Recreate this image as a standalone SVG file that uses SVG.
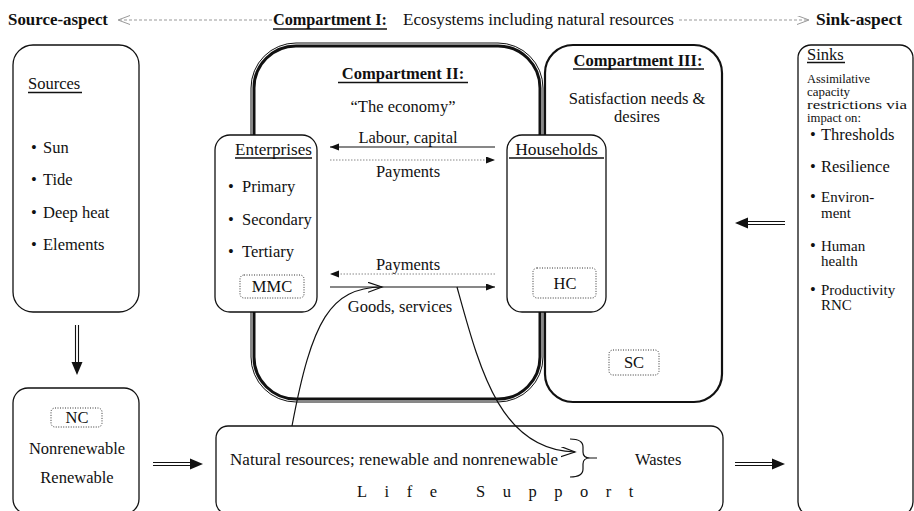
<svg xmlns="http://www.w3.org/2000/svg" xmlns:xlink="http://www.w3.org/1999/xlink" width="914" height="511" viewBox="0 0 914 511">
<style>
.t{font-family:"Liberation Serif","Times New Roman",serif;font-size:16.5px;fill:#111}
.s{font-size:12px}
.c{font-size:15px}
.b{font-weight:bold}
.m{text-anchor:middle}
.box{fill:#fff;stroke:#111;stroke-width:1.3}
.dot{fill:#fff;stroke:#333;stroke-width:1;stroke-dasharray:1 1.5}
.ul{stroke:#111;stroke-width:1.3}
.ln{fill:none;stroke:#111;stroke-width:1.2}
.dl{fill:none;stroke:#888;stroke-width:1;stroke-dasharray:1.5 1.5}
.gl{fill:none;stroke:#999;stroke-width:1;stroke-dasharray:3 2}
</style>
<defs>
<marker id="fa" markerUnits="userSpaceOnUse" markerWidth="10" markerHeight="8" refX="9" refY="3.5" orient="auto"><path d="M0,0 L9,3.5 L0,7 z" fill="#111"/></marker>
<marker id="oa" markerUnits="userSpaceOnUse" markerWidth="16" markerHeight="12" refX="14" refY="5" orient="auto"><path d="M0,0 L14,5 L0,10" fill="none" stroke="#111" stroke-width="1.2"/></marker>
<marker id="ga" markerUnits="userSpaceOnUse" markerWidth="14" markerHeight="11" refX="12" refY="4.5" orient="auto"><path d="M0,0 L12,4.5 L0,9" fill="none" stroke="#999" stroke-width="1"/></marker>
<g id="dbl"><line x1="0" y1="-1.5" x2="40" y2="-1.5" stroke="#111" stroke-width="1.1"/><line x1="0" y1="1.5" x2="40" y2="1.5" stroke="#111" stroke-width="1.1"/><polygon points="37,-5.5 50,0 37,5.5" fill="#111"/></g>
</defs>
<rect width="914" height="511" fill="#fff"/>

<g id="title">
<text class="t b" x="8" y="25" textLength="100" lengthAdjust="spacingAndGlyphs">Source-aspect</text>
<text class="t b" x="273" y="25" textLength="114" lengthAdjust="spacingAndGlyphs">Compartment I:</text>
<line class="ul" x1="273" y1="29" x2="387" y2="29"/>
<text class="t" x="403" y="25" textLength="271" lengthAdjust="spacingAndGlyphs">Ecosystems including natural resources</text>
<text class="t b" x="816" y="25" textLength="86" lengthAdjust="spacingAndGlyphs">Sink-aspect</text>
</g>

<g id="compartment2">
<rect x="251" y="43" width="292" height="359" rx="45" fill="#fff" stroke="#111" stroke-width="1"/>
<rect x="254" y="46" width="286" height="353" rx="42" fill="none" stroke="#111" stroke-width="3"/>
<text class="t b m" x="403" y="79">Compartment II:</text>
<line class="ul" x1="338" y1="82.5" x2="468" y2="82.5"/>
<text class="t m" x="403" y="112">“The economy”</text>
<text class="t m" x="408" y="143">Labour, capital</text>
<text class="t m" x="408" y="177">Payments</text>
<text class="t m" x="408" y="270">Payments</text>
<text class="t m" x="400" y="312">Goods, services</text>
</g>

<g id="compartment3">
<rect x="545" y="45" width="177" height="357" rx="28" fill="#fff" stroke="#111" stroke-width="2.2"/>
<text class="t b m" x="638" y="66">Compartment III:</text>
<line class="ul" x1="573" y1="69" x2="704" y2="69"/>
<text class="t m" x="637" y="104">Satisfaction needs &amp;</text>
<text class="t m" x="637" y="122">desires</text>
<rect class="dot" x="609" y="350" width="50" height="25" rx="4"/>
<text class="t m" x="634" y="368">SC</text>
</g>

<g id="enterprises">
<rect class="box" x="215" y="135" width="102" height="177" rx="15"/>
<text class="t" x="235" y="155" textLength="77" lengthAdjust="spacingAndGlyphs">Enterprises</text>
<line class="ul" x1="235" y1="158" x2="312" y2="158"/>
<text class="t" x="228" y="192">•</text><text class="t" x="242" y="192">Primary</text>
<text class="t" x="228" y="225">•</text><text class="t" x="242" y="225">Secondary</text>
<text class="t" x="228" y="257">•</text><text class="t" x="242" y="257">Tertiary</text>
<rect class="dot" x="240" y="275" width="64" height="23" rx="4"/>
<text class="t m" x="272" y="292">MMC</text>
</g>

<g id="households">
<rect class="box" x="507" y="135" width="99" height="177" rx="15"/>
<text class="t m" x="556.5" y="155" style="font-size:17.5px">Households</text>
<line class="ul" x1="509" y1="158" x2="604" y2="158"/>
<rect class="dot" x="533" y="268" width="63" height="30" rx="4"/>
<text class="t m" x="565" y="289">HC</text>
</g>

<g id="sources">
<rect class="box" x="13" y="45" width="126" height="267" rx="20"/>
<text class="t" x="28" y="89">Sources</text>
<line class="ul" x1="28" y1="92.5" x2="82" y2="92.5"/>
<text class="t" x="31" y="153">•</text><text class="t" x="43" y="153">Sun</text>
<text class="t" x="31" y="185">•</text><text class="t" x="43" y="185">Tide</text>
<text class="t" x="31" y="218">•</text><text class="t" x="43" y="218">Deep heat</text>
<text class="t" x="31" y="250">•</text><text class="t" x="43" y="250">Elements</text>
</g>

<g id="nc">
<rect class="box" x="13" y="388" width="126" height="126" rx="15"/>
<rect class="dot" x="51" y="408" width="51" height="19" rx="4"/>
<text class="t m" x="77" y="423">NC</text>
<text class="t m" x="77" y="454">Nonrenewable</text>
<text class="t m" x="77" y="483">Renewable</text>
</g>

<g id="lifesupport">
<rect class="box" x="216" y="426" width="507" height="88" rx="12"/>
<text class="t" x="230" y="465" textLength="328" lengthAdjust="spacingAndGlyphs">Natural resources; renewable and nonrenewable</text>
<path class="ln" d="M570,439 Q583,439 583,447 L583,452 Q583,458 590,458 L597,458 M590,458 Q583,458 583,464 L583,469 Q583,477 570,477"/>
<text class="t" x="635" y="465">Wastes</text>
<text class="t" x="357" y="497" letter-spacing="17.5">Life Support</text>
</g>

<g id="sinks">
<rect class="box" x="798" y="45" width="115" height="470" rx="13"/>
<text class="t" x="807" y="60">Sinks</text>
<line class="ul" x1="807" y1="62.5" x2="845" y2="62.5"/>
<text class="t s" x="807" y="83" textLength="63" lengthAdjust="spacingAndGlyphs">Assimilative</text>
<text class="t s" x="807" y="96" textLength="43" lengthAdjust="spacingAndGlyphs">capacity</text>
<text class="t s" x="807" y="109" textLength="100" lengthAdjust="spacingAndGlyphs">restrictions via</text>
<text class="t s" x="807" y="122" textLength="54" lengthAdjust="spacingAndGlyphs">impact on:</text>
<text class="t" x="810" y="140">•</text><text class="t" x="821" y="140">Thresholds</text>
<text class="t" x="810" y="172">•</text><text class="t" x="821" y="172">Resilience</text>
<text class="t" x="810" y="202">•</text><text class="t c" x="821" y="202">Environ-</text>
<text class="t c" x="821" y="218">ment</text>
<text class="t" x="810" y="251">•</text><text class="t c" x="821" y="251">Human</text>
<text class="t c" x="821" y="266">health</text>
<text class="t" x="810" y="295">•</text><text class="t c" x="821" y="295">Productivity</text>
<text class="t c" x="821" y="310">RNC</text>
</g>

<g id="connectors">
<line class="gl" x1="272" y1="20" x2="118" y2="20" marker-end="url(#ga)"/>
<line class="gl" x1="679" y1="20" x2="809" y2="20" marker-end="url(#ga)"/>
<line class="ln" x1="495" y1="147" x2="330" y2="147" marker-end="url(#fa)"/>
<line class="dl" x1="330" y1="160" x2="495" y2="160" marker-end="url(#fa)"/>
<line class="dl" x1="495" y1="274" x2="330" y2="274" marker-end="url(#fa)"/>
<line class="ln" x1="330" y1="287" x2="495" y2="287" marker-end="url(#fa)"/>
<path class="ln" d="M292,426 C312,320 330,288 382,287" marker-end="url(#oa)"/>
<path class="ln" d="M457,287 C480,370 500,450 575,452" marker-end="url(#oa)"/>
<use xlink:href="#dbl" transform="translate(77,325) rotate(90)"/>
<use xlink:href="#dbl" transform="translate(153,464)"/>
<use xlink:href="#dbl" transform="translate(735,464)"/>
<use xlink:href="#dbl" transform="translate(785,223) rotate(180)"/>
</g>
</svg>
